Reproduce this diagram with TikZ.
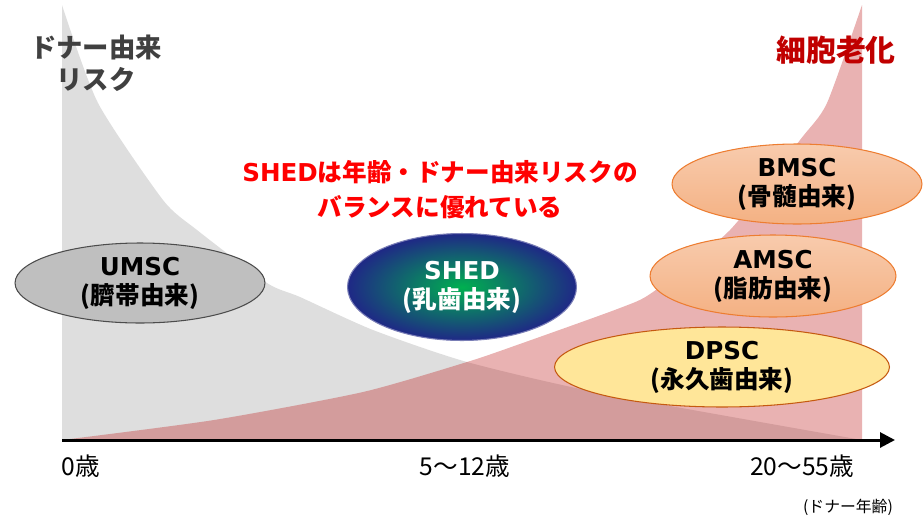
\documentclass[tikz,border=0pt]{standalone}
\usepackage{fontspec}
\setmainfont{Noto Sans CJK JP}
\newfontfamily\latinfont{DejaVu Sans}
\newcommand{\lat}[1]{{\latinfont #1}}
\usepackage{xcolor}
\definecolor{risk_grey}{RGB}{222,222,222}
\definecolor{aging_red}{RGB}{194,41,41}
\definecolor{dark_red}{RGB}{192,0,0}
\definecolor{text_grey}{RGB}{64,64,64}
\definecolor{shed_green}{RGB}{0,176,80}
\definecolor{shed_blue}{RGB}{31,40,134}
\definecolor{peach_top}{RGB}{248,203,173}
\definecolor{peach_bottom}{RGB}{244,177,131}
\definecolor{peach_line}{RGB}{237,125,49}
\definecolor{dpsc_yellow}{RGB}{255,230,153}
\definecolor{dpsc_line}{RGB}{197,90,17}
\usepackage{tikz}
\usetikzlibrary{calc,arrows.meta,positioning,shapes.geometric}

\begin{document}
\begin{tikzpicture}
[
    x = 0.02cm, y = -0.02cm,
    cell/.style = {ellipse, align = center, inner sep = 0pt, font = \fontsize{14}{16.5}\selectfont\bfseries},
    umscstyle/.style = {cell, fill = black!25, draw = black!70, line width = 0.6pt},
    shedstyle/.style = {cell, shading = radial, inner color = shed_green, outer color = shed_blue, draw = shed_blue!60, line width = 0.6pt, text = white},
    peach/.style = {cell, top color = peach_top, bottom color = peach_bottom, draw = peach_line, line width = 0.6pt},
    dpscstyle/.style = {cell, fill = dpsc_yellow, draw = dpsc_line, line width = 0.6pt},
    agelabel/.style = {font = \fontsize{14}{16}\selectfont}
]
\useasboundingbox (0,0) rectangle (923,518);

% donor risk (grey) and cell aging (red)
\fill[risk_grey] plot[smooth, tension=0.4] coordinates {(62,5) (98,103) (163,200) (197,230) (267,283) (300,297) (373,330) (467,362) (600,393) (862,440)} -- (62,440) -- cycle;
\fill[aging_red, opacity=0.36] plot[smooth, tension=0.4] coordinates {(62,440) (214,420) (363,392) (467,362) (517,345) (620,308) (653,292) (730,230) (800,140) (827,103) (862,5)} -- (862,440) -- cycle;

% axis
\coordinate (origin) at (62,440);
\coordinate (xend) at (895,440);
\draw[line width=1.7pt, -{Triangle[length=0.3cm, width=0.3cm]}] (origin) -- (xend);

\node[agelabel] (age0) at (81,466) {0歳};
\node[agelabel] (age5) at (465,466) {5～12歳};
\node[agelabel] (age20) at (802,466) {20～55歳};
\node[font=\fontsize{9}{11}\selectfont] (agenote) at (848,507) {(ドナー年齢)};

% headings
\node[text=text_grey, align=center, font=\fontsize{15}{18.5}\selectfont\bfseries] (risk) at (96,63) {ドナー由来\\リスク};
\node[text=dark_red, font=\fontsize{17}{19}\selectfont\bfseries] (aging) at (836,50) {細胞老化};
\node[text=red, align=center, font=\fontsize{14}{20}\selectfont\bfseries] (msg) at (440,190) {\lat{SHED}は年齢・ドナー由来リスクの\\バランスに優れている};

% stem cell sources
\node[umscstyle, minimum width=5cm, minimum height=1.6cm] (umsc) at (140,283) {\lat{UMSC}\\(臍帯由来)};
\node[shedstyle, minimum width=4.58cm, minimum height=2.14cm] (shed) at (462,287) {\lat{SHED}\\(乳歯由来)};
\node[peach, minimum width=5cm, minimum height=1.6cm] (bmsc) at (797,184) {\lat{BMSC}\\(骨髄由来)};
\node[peach, minimum width=4.92cm, minimum height=1.64cm] (amsc) at (773,276) {\lat{AMSC}\\(脂肪由来)};
\node[dpscstyle, minimum width=6.7cm, minimum height=1.6cm] (dpsc) at (722,367) {\lat{DPSC}\\(永久歯由来)};
\end{tikzpicture}
\end{document}
